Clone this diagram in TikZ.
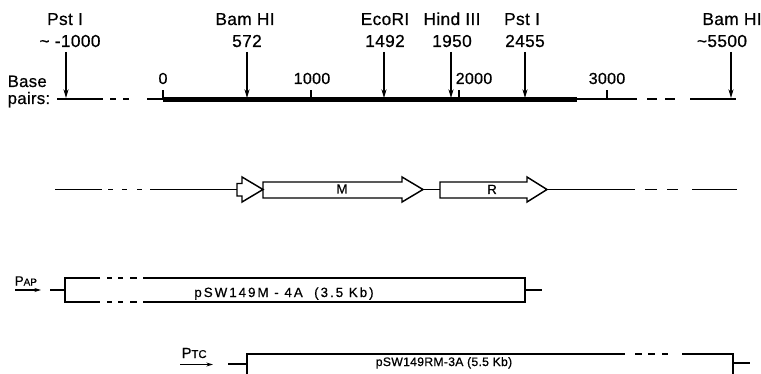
\documentclass[tikz,border=0pt]{standalone}
\usepackage{fontspec}
\setmainfont[FakeBold=0.6]{Liberation Sans}
\newfontfamily\widefont[LetterSpace=2,FakeBold=0.6]{Liberation Sans}
\newfontfamily\plasfont[LetterSpace=15,FakeBold=0.6]{Liberation Sans}
\newfontfamily\plasfontb[LetterSpace=2,FakeBold=0.6]{Liberation Sans}
\usetikzlibrary{arrows.meta}
\begin{document}
\begin{tikzpicture}[x=0.75pt,y=-0.75pt,line width=1.1pt,
  lbl/.style={inner sep=0pt,anchor=base,font=\widefont\fontsize{13}{15}\selectfont},
  ticklbl/.style={inner sep=0pt,anchor=base,font=\widefont\fontsize{12}{14}\selectfont},
  axislbl/.style={inner sep=0pt,anchor=base west,font=\widefont\fontsize{12.5}{14}\selectfont},
  site/.style={-{Stealth[length=6.5pt,width=3.8pt]},line width=0.9pt},
  prom/.style={-{Stealth[length=5pt,width=3pt]},line width=0.9pt},
  genebox/.style={draw,line width=1.1pt,line join=miter},
  genelbl/.style={inner sep=0pt,anchor=base,font=\fontsize{10}{11}\selectfont},
  plaslbl/.style={inner sep=0pt,anchor=base,font=\plasfont\fontsize{10}{11}\selectfont},
  plaslblb/.style={inner sep=0pt,anchor=base,font=\plasfontb\fontsize{9.2}{10}\selectfont},
  promlbl/.style={inner sep=0pt,anchor=base west},
  thickbar/.style={line width=3.8pt}
]
\path[fill=white] (0,0) rectangle (761,374);
\useasboundingbox (0,0) rectangle (761,374);

% ---------- restriction site labels ----------
\node[lbl] (pstA)  at (65,25)  {Pst I};
\node[lbl] (pstAn) at (70,47)  {\textasciitilde{} -1000};
\node[lbl] (bamA)  at (245,25) {Bam HI};
\node[lbl] (bamAn) at (247,47) {572};
\node[lbl] (eco)   at (385,25) {EcoRI};
\node[lbl] (econ)  at (385,47) {1492};
\node[lbl] (hind)  at (452,25) {Hind III};
\node[lbl] (hindn) at (452,47) {1950};
\node[lbl] (pstB)  at (522,25) {Pst I};
\node[lbl] (pstBn) at (525,47) {2455};
\node[lbl] (bamB)  at (732,25) {Bam HI};
\node[lbl] (bamBn) at (722,47) {\textasciitilde5500};

% arrow end points
\coordinate (pstAt) at (66,52);  \coordinate (pstAb) at (66,98);
\coordinate (bamAt) at (247,52); \coordinate (bamAb) at (247,98);
\coordinate (ecot)  at (384,52); \coordinate (ecob)  at (384,98);
\coordinate (hindt) at (451,52); \coordinate (hindb) at (451,98);
\coordinate (pstBt) at (525,52); \coordinate (pstBb) at (525,98);
\coordinate (bamBt) at (731,52); \coordinate (bamBb) at (731,98);
\draw[site] (pstAt) -- (pstAb);
\draw[site] (bamAt) -- (bamAb);
\draw[site] (ecot) -- (ecob);
\draw[site] (hindt) -- (hindb);
\draw[site] (pstBt) -- (pstBb);
\draw[site] (bamBt) -- (bamBb);

% ---------- scale ----------
\node[axislbl] (base)  at (7,87)  {Base};
\node[axislbl] (pairs) at (7,104) {pairs:};
\draw (57,99) -- (103,99);
\draw (110,99) -- (116,99);
\draw (123,99) -- (129,99);
\draw (147,99) -- (163,99);
\draw[thickbar] (163,99.8) -- (577,99.8);
\draw (577,99) -- (637,99);
\draw (647,99) -- (657,99);
\draw (665,99) -- (675,99);
\draw (690,99) -- (736,99);
\draw (163,99) -- (163,90);
\draw (311,99) -- (311,90);
\draw (459,99) -- (459,90);
\draw (607,99) -- (607,90);
\node[ticklbl] (t0) at (163,84) {0};
\node[ticklbl] (t1) at (312,84) {1000};
\node[ticklbl,anchor=base west] (t2) at (455,84) {2000};
\node[ticklbl] (t3) at (607,84) {3000};

% ---------- gene map ----------
\draw (55,189.5) -- (102,189.5);
\draw (108,189.5) -- (113,189.5);
\draw (122,189.5) -- (127,189.5);
\draw (137,189.5) -- (142,189.5);
\draw (150,189.5) -- (237,189.5);
\draw[genebox] (237,183.5) -- (242,183.5) -- (242,177) -- (263,189.5) -- (242,202) -- (242,196) -- (237,196) -- cycle;
\draw[genebox] (263,182) -- (402,182) -- (402,177) -- (423,189.5) -- (402,202) -- (402,198) -- (263,198) -- cycle;
\node[genelbl] (M) at (342,193.5) {M};
\coordinate (Mtip) at (423,189.5);
\coordinate (Rtail) at (440,189.5);
\draw (Mtip) -- (Rtail);
\draw[genebox] (440,182) -- (527,182) -- (527,177) -- (547,189.5) -- (527,202) -- (527,198) -- (440,198) -- cycle;
\node[genelbl] (R) at (492,194) {R};
\draw (547,189.5) -- (635,189.5);
\draw (645,189.5) -- (657,189.5);
\draw (667,189.5) -- (678,189.5);
\draw (692,189.5) -- (737,189.5);

% ---------- pSW149M-4A ----------
\node[promlbl] (pap) at (14,285.5) {\fontsize{10}{11}\selectfont P{\fontsize{7.5}{8}\selectfont AP}};
\coordinate (papa) at (15,290); \coordinate (papb) at (41,290);
\draw[prom] (papa) -- (papb);
\draw (50,290) -- (65,290);
\draw (100,278) -- (65,278) -- (65,302) -- (100,302);
\draw (107,278) -- (112,278);  \draw (107,302) -- (112,302);
\draw (118,278) -- (123,278);  \draw (118,302) -- (123,302);
\draw (130,278) -- (137,278);  \draw (130,302) -- (137,302);
\draw (143,278) -- (525,278) -- (525,302) -- (143,302);
\draw (525,290) -- (542,290);
\node[plaslbl] (m4a) at (284,297) {pSW149M - 4A \ (3.5 Kb)};

% ---------- pSW149RM-3A ----------
\node[promlbl] (ptc) at (181,358) {\fontsize{11}{12}\selectfont P{\fontsize{8.5}{9}\selectfont TC}};
\coordinate (ptca) at (180,364.5); \coordinate (ptcb) at (213,364.5);
\draw[prom] (ptca) -- (ptcb);
\draw (228,364) -- (247,364);
\draw (247,374) -- (247,354) -- (625,354);
\draw (635,354) -- (642,354);
\draw (648,354) -- (655,354);
\draw (662,354) -- (668,354);
\draw (682,354) -- (733,354) -- (733,374);
\draw (733,363) -- (750,363);
\node[plaslblb] (rm3a) at (444,366) {pSW149RM-3A (5.5 Kb)};
\end{tikzpicture}
\end{document}
